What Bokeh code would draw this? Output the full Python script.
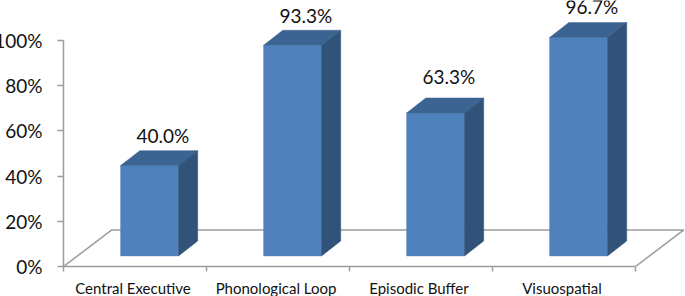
from bokeh.plotting import figure
from bokeh.models import Range1d, FixedTicker, ColumnDataSource
from bokeh.core.properties import value
from bokeh.embed import file_html
from bokeh.resources import INLINE

categories = ["Central Executive", "Phonological Loop", "Episodic Buffer", "Visuospatial"]
values = [40.0, 93.3, 63.3, 96.7]
y_ticks = [0, 20, 40, 60, 80, 100]
y_tick_labels = ["0%", "20%", "40%", "60%", "80%", "100%"]

FONT = "Lato"
FRONT, TOP, SIDE = "#4f81bd", "#3c6492", "#325379"
GREY = "#9c9c9c"

# 3D projection, in data units
DX, DY = 0.134, 6.6       # bar depth
FX, FY = 0.338, 16.2      # floor depth
BASE = 4.7                # bar bottom above the floor's front edge
BAR_W = 0.405
BAR_C = 0.602
LABEL_LIFT = [-30, -30, -36, -31]   # px above each bar's front top

PANEL_L, PANEL_B = 73, 32
FRAME_L, FRAME_B = 63, 267   # where the plot frame should sit in the window
WIN_W = 685
shift = PANEL_L - FRAME_L
W, H = WIN_W + shift, FRAME_B + PANEL_B
x_end = (WIN_W - FRAME_L) / 143.0
y_end = FRAME_B / 2.267

p = figure(width=W, height=H, output_backend="svg", toolbar_location=None,
           x_range=Range1d(0, x_end), y_range=Range1d(0, y_end),
           min_border_left=PANEL_L, min_border_right=0, min_border_top=0, min_border_bottom=PANEL_B,
           outline_line_color=None, background_fill_color="white", border_fill_color="white",
           margin=(0, 0, 0, -shift))
p.grid.visible = False

n = len(categories)
xax, yax = p.xaxis[0], p.yaxis[0]
yax.ticker = FixedTicker(ticks=y_ticks)
yax.major_label_overrides = dict(zip(y_ticks, y_tick_labels))
yax.bounds = (0, 100)
yax.axis_line_color = GREY
yax.axis_line_width = 1.5
yax.major_tick_line_color = GREY
yax.major_tick_line_width = 1.5
yax.major_tick_in = 0
yax.major_tick_out = 6
yax.major_label_standoff = 15
yax.major_label_text_font = FONT
yax.major_label_text_font_size = "19px"
yax.major_label_text_color = "#111111"

centers = [i + 0.486 for i in range(n)]
xax.ticker = FixedTicker(ticks=centers, minor_ticks=list(range(n + 1)))
xax.major_label_overrides = dict(zip(centers, categories))
xax.bounds = (0, n)
xax.axis_line_color = GREY
xax.axis_line_width = 1.5
xax.major_tick_line_color = None
xax.major_tick_in = 0
xax.major_tick_out = 0
xax.minor_tick_line_color = GREY
xax.minor_tick_line_width = 1.5
xax.minor_tick_in = 0
xax.minor_tick_out = 5
xax.major_label_standoff = 7
xax.major_label_text_font = FONT
xax.major_label_text_font_size = "15px"
xax.major_label_text_color = "#111111"

# floor
p.line([0, FX, n + FX, n], [0, FY, FY, 0], line_color=GREY, line_width=1.5)

left = [i + BAR_C - BAR_W / 2 for i in range(n)]
right = [i + BAR_C + BAR_W / 2 for i in range(n)]
tops = [BASE + v for v in values]

p.quad(left=left, right=right, bottom=[BASE] * n, top=tops,
       fill_color=FRONT, line_color=FRONT, line_width=0.5)
p.patches(
    xs=[[l, r, r + DX, l + DX] for l, r in zip(left, right)],
    ys=[[t, t, t + DY, t + DY] for t in tops],
    fill_color=TOP, line_color=TOP, line_width=0.5)
p.patches(
    xs=[[r, r + DX, r + DX, r] for r in right],
    ys=[[BASE, BASE + DY, t + DY, t] for t in tops],
    fill_color=SIDE, line_color=SIDE, line_width=0.5)

src = ColumnDataSource(dict(x=[i + BAR_C + 0.093 for i in range(n)], y=tops,
                            t=[f"{v:.1f}%" for v in values], dy=LABEL_LIFT))
p.text(x="x", y="y", text="t", source=src, y_offset="dy",
       text_align="center", text_baseline="middle",
       text_font=value(FONT), text_font_size="19px", text_color="#111111")

open("out.html", "w").write(file_html(p, INLINE))
